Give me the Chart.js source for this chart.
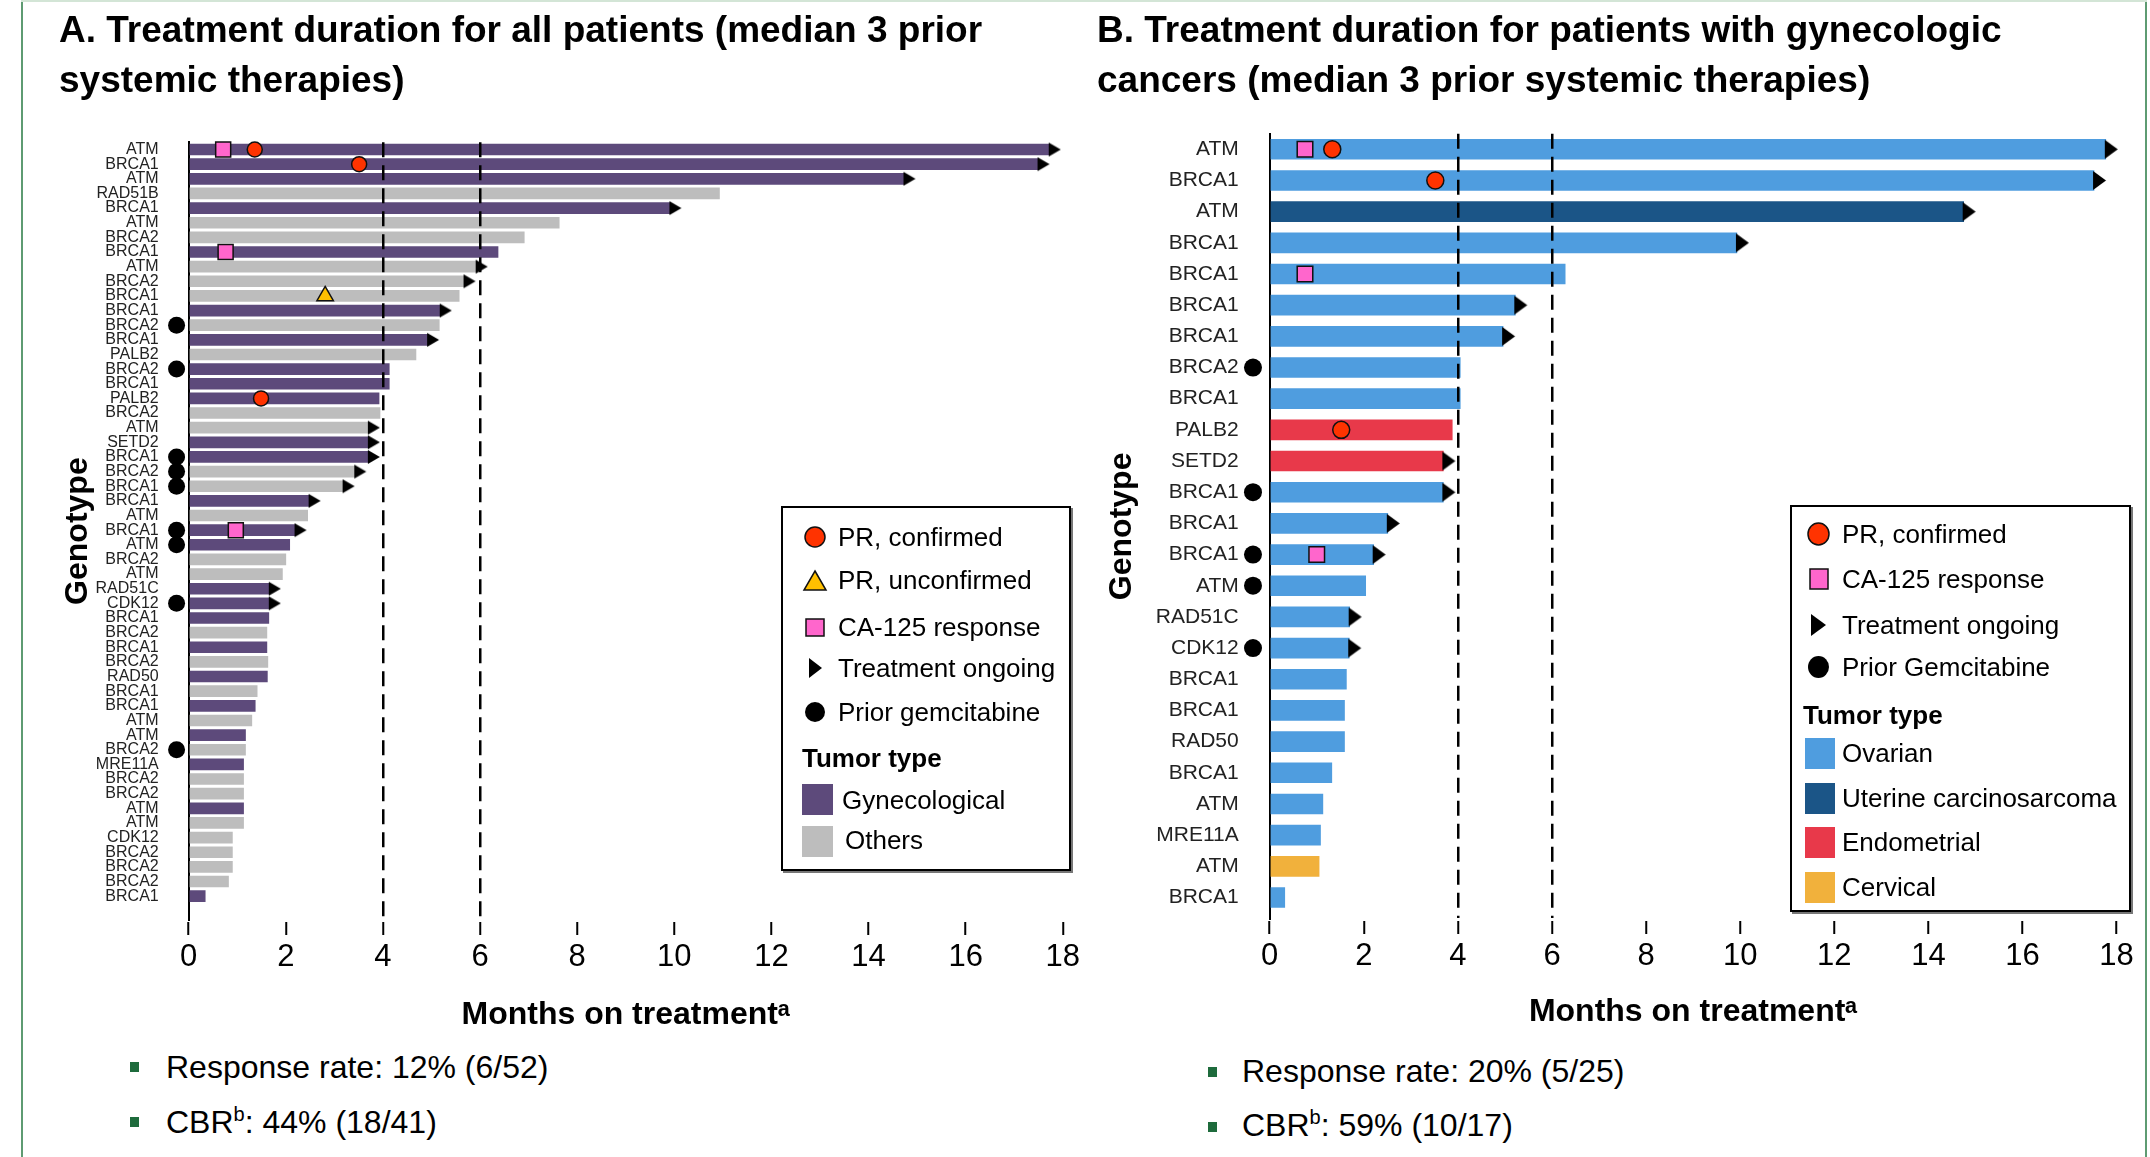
<!DOCTYPE html>
<html>
<head>
<meta charset="utf-8">
<script src="https://cdn.jsdelivr.net/npm/chart.js@4.4.1/dist/chart.umd.min.js"></script>
<style>
html,body{margin:0;padding:0;background:#fff;}
#wrap{position:relative;width:2150px;height:1157px;overflow:hidden;background:#fff;font-family:'Liberation Sans',Arial,sans-serif;color:#000;}
#wrap canvas{position:absolute;top:0;}
.abs{position:absolute;white-space:nowrap;}
.ptitle{position:absolute;white-space:nowrap;font-weight:bold;font-size:37px;line-height:50px;top:5px;}
.legbox{position:absolute;background:#fff;border:2px solid #000;box-shadow:2px 2px 0 #777;box-sizing:border-box;}
.lt{font-size:26px;line-height:30px;}
.lh{font-size:26px;line-height:30px;font-weight:bold;}
.bul{position:absolute;width:9px;height:10px;background:#1e6b3c;}
.bt{position:absolute;white-space:nowrap;font-size:32px;line-height:40px;}
.bt sup{font-size:20px;line-height:0;vertical-align:super;}
</style>
</head>
<body>
<div id="wrap">
  <canvas id="cA" width="1108" height="1040" style="left:0px"></canvas>
  <canvas id="cB" width="1085" height="1040" style="left:1080px"></canvas>
  <div class="abs" style="left:21px;top:0;width:2px;height:1157px;background:#5e9b72"></div>
  <div class="abs" style="left:2145px;top:0;width:2px;height:1157px;background:#5e9b72"></div>
  <div class="abs" style="left:21px;top:0;width:2126px;height:2px;background:#d3e5d6"></div>
  <div class="ptitle" style="left:59px">A. Treatment duration for all patients (median 3 prior<br>systemic therapies)</div>
  <div class="ptitle" style="left:1097px">B. Treatment duration for patients with gynecologic<br>cancers (median 3 prior systemic therapies)</div>
  <div class="bul" style="left:130px;top:1062px"></div>
  <div class="bt" style="left:166px;top:1047px">Response rate: 12% (6/52)</div>
  <div class="bul" style="left:130px;top:1117px"></div>
  <div class="bt" style="left:166px;top:1102px">CBR<sup>b</sup>: 44% (18/41)</div>
  <div class="bul" style="left:1208px;top:1067px"></div>
  <div class="bt" style="left:1242px;top:1051px">Response rate: 20% (5/25)</div>
  <div class="bul" style="left:1208px;top:1122px"></div>
  <div class="bt" style="left:1242px;top:1105px">CBR<sup>b</sup>: 59% (10/17)</div>
</div>
<script>
// ---------------- DATA ----------------
const genesA = ['ATM','BRCA1','ATM','RAD51B','BRCA1','ATM','BRCA2','BRCA1','ATM','BRCA2','BRCA1','BRCA1','BRCA2','BRCA1','PALB2','BRCA2','BRCA1','PALB2','BRCA2','ATM','SETD2','BRCA1','BRCA2','BRCA1','BRCA1','ATM','BRCA1','ATM','BRCA2','ATM','RAD51C','CDK12','BRCA1','BRCA2','BRCA1','BRCA2','RAD50','BRCA1','BRCA1','ATM','ATM','BRCA2','MRE11A','BRCA2','BRCA2','ATM','ATM','CDK12','BRCA2','BRCA2','BRCA2','BRCA1'];
const monthsA = [17.73,17.5,14.74,10.93,9.92,7.63,6.91,6.37,5.93,5.68,5.57,5.19,5.16,4.93,4.68,4.13,4.13,3.92,3.94,3.71,3.71,3.71,3.43,3.19,2.49,2.45,2.2,2.08,2.0,1.93,1.67,1.67,1.65,1.61,1.61,1.63,1.62,1.41,1.37,1.30,1.17,1.17,1.13,1.13,1.13,1.13,1.13,0.9,0.9,0.9,0.82,0.34];
const tumorA = ['G','G','G','O','G','O','O','G','O','O','O','G','O','G','O','G','G','G','O','O','G','G','O','O','G','O','G','G','O','O','G','G','G','O','G','O','G','O','G','O','G','O','G','O','O','G','O','O','O','O','O','G'];
const ongoingA = [0,1,2,4,8,9,11,13,19,20,21,22,23,24,26,30,31];
const gemA = [12,15,21,22,23,26,27,31,41];
const prConfirmedA = [[0,1.36],[1,3.51],[17,1.49]];
const prUnconfirmedA = [[10,2.81]];
const ca125A = [[0,0.71],[7,0.76],[26,0.97]];

const genesB = ['ATM','BRCA1','ATM','BRCA1','BRCA1','BRCA1','BRCA1','BRCA2','BRCA1','PALB2','SETD2','BRCA1','BRCA1','BRCA1','ATM','RAD51C','CDK12','BRCA1','BRCA1','RAD50','BRCA1','ATM','MRE11A','ATM','BRCA1'];
const monthsB = [17.77,17.52,14.75,9.93,6.28,5.22,4.96,4.05,4.05,3.88,3.69,3.69,2.51,2.21,2.04,1.70,1.69,1.63,1.59,1.59,1.32,1.13,1.08,1.05,0.32];
const tumorB = ['Ov','Ov','Ut','Ov','Ov','Ov','Ov','Ov','Ov','En','En','Ov','Ov','Ov','Ov','Ov','Ov','Ov','Ov','Ov','Ov','Ov','Ov','Cx','Ov'];
const ongoingB = [0,1,2,3,5,6,10,11,12,13,15,16];
const gemB = [7,11,13,14,16];
const prConfirmedB = [[0,1.33],[1,3.52],[9,1.52]];
const ca125B = [[0,0.75],[4,0.75],[13,1.0]];

const referenceLines = [4, 6];
const xMin = 0, xMax = 18, xStep = 2;

// ---------------- STYLES ----------------
const colorsA = {G:'#5d4a7b', O:'#bdbdbd'};
const colorsB = {Ov:'#4f9ddf', Ut:'#1b5587', En:'#e8394a', Cx:'#f1b13c'};
const RED = '#ff3300', PINK = '#ff66cc', YEL = '#ffc000';

Chart.defaults.font.family = "'Liberation Sans', Arial, sans-serif";

function triCanvas(w, h) {
  const c = document.createElement('canvas');
  c.width = 2 * w + 2; c.height = h + 2;
  const g = c.getContext('2d');
  g.fillStyle = '#000';
  g.beginPath();
  g.moveTo(w, 1); g.lineTo(2 * w + 1, 1 + h / 2); g.lineTo(w, h + 1); g.closePath(); g.fill();
  return c;
}

function panel(id, P) {
  const pts = arr => arr.map(([r, m]) => ({x: m, y: r}));
  const base = {type:'scatter', indexAxis:'y', clip:false, order:0, showLine:false};
  const datasets = [
    {type:'bar', indexAxis:'y', order:10,
     data: P.months.map((v, i) => ({x: v, y: i})),
     backgroundColor: P.tumor.map(t => P.colors[t]),
     borderWidth:0, barThickness:P.barT},
    Object.assign({}, base, {data: P.ongoing.map(i => ({x: P.months[i], y: i})),
      pointStyle: triCanvas(P.triW, P.triH), pointRadius: 10, hoverRadius: 10}),
    Object.assign({}, base, {data: P.gem.map(i => ({x: P.gemX, y: i})),
      pointStyle:'circle', pointRadius:P.gemR, hoverRadius:40, backgroundColor:'#000', borderColor:'#000', borderWidth:0}),
    Object.assign({}, base, {data: pts(P.ca125),
      pointStyle:'rect', pointRadius:P.sqR, hoverRadius:P.sqR, backgroundColor:PINK, borderColor:'#111', borderWidth:1.5}),
    Object.assign({}, base, {data: pts(P.prConf),
      pointStyle:'circle', pointRadius:P.circR, hoverRadius:P.circR, backgroundColor:RED, borderColor:'#111', borderWidth:1.5})
  ];
  if (P.prUnconf) datasets.push(Object.assign({}, base, {data: pts(P.prUnconf),
      pointStyle:'triangle', pointRadius:9.5, hoverRadius:9.5, backgroundColor:YEL, borderColor:'#111', borderWidth:1.5}));

  return new Chart(document.getElementById(id), {
    type:'bar',
    data:{datasets},
    options:{
      responsive:false, animation:false, events:[], indexAxis:'y',
      layout:{padding:{top:P.padTop, right:P.padRight, left:0, bottom:0}},
      plugins:{legend:{display:false}, tooltip:{enabled:false}, title:{display:false}},
      scales:{
        x:{type:'linear', position:'bottom', min:xMin, max:xMax, offset:false,
           ticks:{stepSize:xStep, font:{size:31}, color:'#000', padding:4, maxRotation:0, autoSkip:false},
           grid:{z:1, offset:false, color:c => (c.tick && referenceLines.includes(c.tick.value)) ? '#000' : 'rgba(0,0,0,0)',
                 lineWidth:2.5, drawTicks:true, tickLength:15, tickColor:'#000', tickWidth:2, tickBorderDash:[]},
           border:{display:true, color:'#000', width:3, dash:[15,8]},
           title:{display:true, text:'Months on treatmentᵃ', color:'#000', font:{size:32, weight:'bold'}, padding:{top:0, bottom:P.xtPad}},
           afterFit: s => { s.height = P.xH; }},
        y:{type:'linear', position:'left', reverse:true, bounds:'data', offset:false, min:-0.5, max:P.yMax,
           afterBuildTicks: s => { s.ticks = P.genes.map((g, i) => ({value:i})); },
           ticks:{autoSkip:false, callback: v => P.genes[v], font:{size:P.labSize}, color:'#222', padding:P.labPad},
           grid:{display:false, drawTicks:false, offset:false},
           border:{display:true, color:'#000', width:2},
           title:{display:true, text:'Genotype', color:'#000', font:{size:32, weight:'bold'}, padding:{top:P.ytPad, bottom:0}},
           afterFit: s => { s.width = P.yW; }}
      }
    }
  });
}

panel('cA', {genes:genesA, months:monthsA, tumor:tumorA, colors:colorsA, ongoing:ongoingA, gem:gemA,
  prConf:prConfirmedA, prUnconf:prUnconfirmedA, ca125:ca125A,
  barT:11, triW:11, triH:14, gemX:-0.25, gemR:8.5, sqR:10.6, circR:7.5,
  padTop:142.2, padRight:45.2, yW:188.7, xH:120, yMax:52.63, labSize:16, labPad:30, ytPad:58.8, xtPad:5.8});

panel('cB', {genes:genesB, months:monthsB, tumor:tumorB, colors:colorsB, ongoing:ongoingB, gem:gemB,
  prConf:prConfirmedB, prUnconf:null, ca125:ca125B,
  barT:20, triW:12, triH:19, gemX:-0.355, gemR:9, sqR:11, circR:8.5,
  padTop:133.7, padRight:48.4, yW:189.7, xH:121, yMax:24.69, labSize:21, labPad:31, ytPad:22.8, xtPad:8.8});

// ---------------- LEGENDS (HTML) ----------------
const wrap = document.getElementById('wrap');
const NS = 'http://www.w3.org/2000/svg';
function box(l, t, w, h) {
  const d = document.createElement('div'); d.className = 'legbox';
  Object.assign(d.style, {left:l+'px', top:t+'px', width:w+'px', height:h+'px'});
  wrap.appendChild(d);
}
function sym(kind, cx, cy, w, h, fill) {
  const s = document.createElementNS(NS, 'svg');
  const W = w + 4, H = h + 4;
  s.setAttribute('width', W); s.setAttribute('height', H);
  Object.assign(s.style, {position:'absolute', left:(cx - W/2)+'px', top:(cy - H/2)+'px'});
  let el;
  if (kind === 'circle') { el = document.createElementNS(NS,'ellipse'); el.setAttribute('cx',W/2); el.setAttribute('cy',H/2); el.setAttribute('rx',w/2); el.setAttribute('ry',h/2); }
  else if (kind === 'rect' || kind === 'swatch') { el = document.createElementNS(NS,'rect'); el.setAttribute('x',2); el.setAttribute('y',2); el.setAttribute('width',w); el.setAttribute('height',h); }
  else if (kind === 'tri-up') { el = document.createElementNS(NS,'polygon'); el.setAttribute('points', `${W/2},2 ${W-2},${H-2} 2,${H-2}`); }
  else { el = document.createElementNS(NS,'polygon'); el.setAttribute('points', `2,2 ${W-2},${H/2} 2,${H-2}`); }
  el.setAttribute('fill', fill);
  if (kind !== 'swatch' && kind !== 'tri-right' && fill !== '#000') { el.setAttribute('stroke','#111'); el.setAttribute('stroke-width','1.5'); }
  s.appendChild(el); wrap.appendChild(s);
}
function txt(t, x, cy, cls) {
  const d = document.createElement('div'); d.className = 'abs ' + cls; d.textContent = t;
  Object.assign(d.style, {left:x+'px', top:(cy - 15)+'px'});
  wrap.appendChild(d);
}

// Legend A
box(781, 506, 290, 365);
const legA = [
  ['circle', 537, 20, 20, RED, 'PR, confirmed'],
  ['tri-up', 580, 22, 19, YEL, 'PR, unconfirmed'],
  ['rect', 627, 18, 17, PINK, 'CA-125 response'],
  ['tri-right', 668, 13, 20, '#000', 'Treatment ongoing'],
  ['circle', 712, 20, 20, '#000', 'Prior gemcitabine']
];
legA.forEach(([k, cy, w, h, f, t]) => { sym(k, 815, cy, w, h, f); txt(t, 838, cy, 'lt'); });
txt('Tumor type', 802, 758, 'lh');
sym('swatch', 817.5, 799, 31, 31, colorsA.G); txt('Gynecological', 842, 800, 'lt');
sym('swatch', 817.5, 841, 31, 31, colorsA.O); txt('Others', 845, 840, 'lt');

// Legend B
box(1790, 505, 341, 407);
const legB = [
  ['circle', 534, 21, 22, RED, 'PR, confirmed'],
  ['rect', 579, 18, 20, PINK, 'CA-125 response'],
  ['tri-right', 625, 15, 22, '#000', 'Treatment ongoing'],
  ['circle', 667, 21, 22, '#000', 'Prior Gemcitabine']
];
legB.forEach(([k, cy, w, h, f, t]) => { sym(k, 1818.5, cy, w, h, f); txt(t, 1842, cy, 'lt'); });
txt('Tumor type', 1803, 715, 'lh');
[['Ov','Ovarian',753],['Ut','Uterine carcinosarcoma',798],['En','Endometrial',842],['Cx','Cervical',887]]
  .forEach(([k, t, cy]) => { sym('swatch', 1819.5, cy, 30, 31, colorsB[k]); txt(t, 1842, cy, 'lt'); });
</script>
</body>
</html>
